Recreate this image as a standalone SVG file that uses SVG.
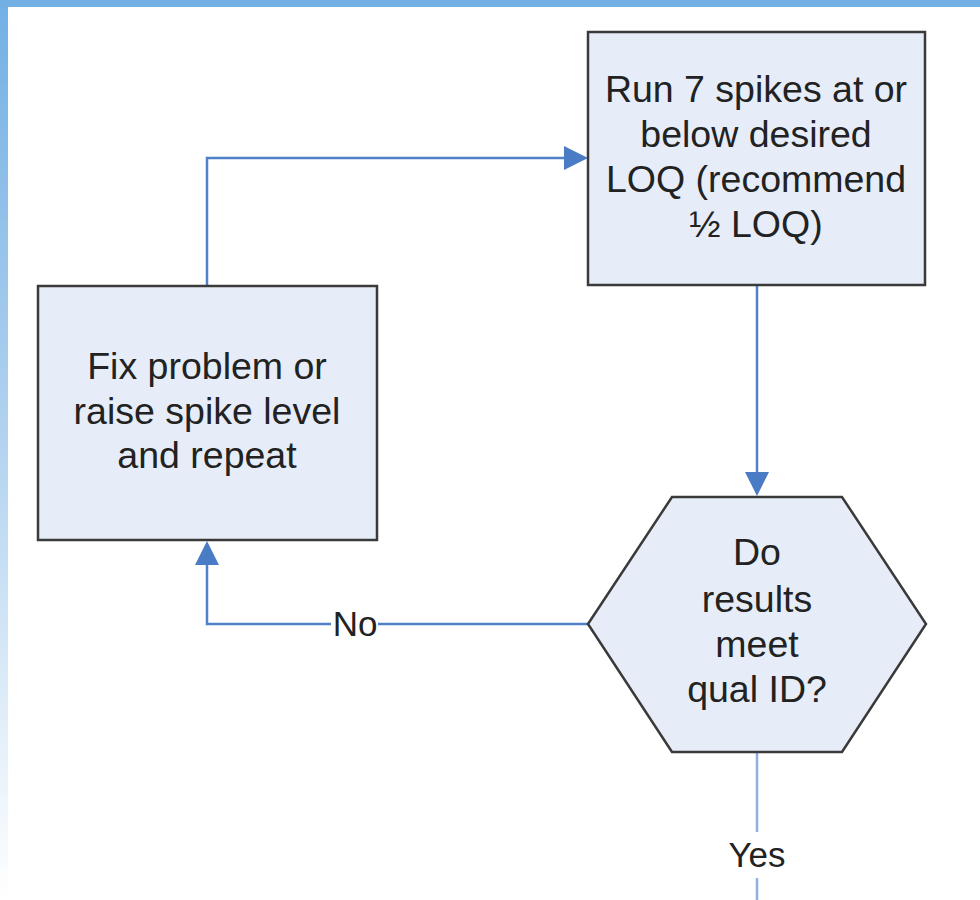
<svg xmlns="http://www.w3.org/2000/svg" width="980" height="900" viewBox="0 0 980 900">
<defs>
<linearGradient id="side" x1="0" y1="0" x2="0" y2="1">
<stop offset="0" stop-color="#72b0e4"/>
<stop offset="0.5" stop-color="#b4d4f0"/>
<stop offset="1" stop-color="#ffffff"/>
</linearGradient>
<style>
.node{fill:#e6edf8;stroke:#3a3a3a;stroke-width:2.5}
.lbl{font-family:"Liberation Sans",Arial,sans-serif;font-size:37.5px;fill:#222;text-anchor:middle}
.conn{fill:none;stroke:#4f81c8;stroke-width:2.5}
.head{fill:#4a7cc6}
</style>
</defs>
<rect width="980" height="900" fill="#ffffff"/>
<rect x="0" y="0" width="8" height="900" fill="url(#side)"/>
<rect x="0" y="0" width="980" height="7" fill="#72b0e4"/>

<g id="connectors">
<path class="conn" d="M207,285 V158 H566"/>
<path class="head" d="M588,158 L564,146 L564,170 Z"/>
<path class="conn" d="M757,286 V474"/>
<path class="head" d="M757,496 L745,472 L769,472 Z"/>
<path class="conn" d="M588,624 H378 M331,624 H207 V563"/>
<path class="head" d="M207,541 L195,565 L219,565 Z"/>
<path class="conn" d="M757,752 V832 M757,878 V900" style="stroke:#8fb1e2"/>
<text class="lbl" x="355" y="636" style="font-size:35px">No</text>
<text class="lbl" x="757" y="867" style="font-size:35px">Yes</text>
</g>

<g id="run-spikes">
<rect class="node" x="588" y="32" width="337" height="253"/>
<text class="lbl" x="756" y="102">Run 7 spikes at or</text>
<text class="lbl" x="756" y="147">below desired</text>
<text class="lbl" x="756" y="192">LOQ (recommend</text>
<text class="lbl" x="756" y="237">½ LOQ)</text>
</g>

<g id="fix-problem">
<rect class="node" x="38" y="286" width="339" height="254"/>
<text class="lbl" x="207" y="379">Fix problem or</text>
<text class="lbl" x="207" y="424">raise spike level</text>
<text class="lbl" x="207" y="468">and repeat</text>
</g>

<g id="decision">
<polygon class="node" points="588,624 672,497 842,497 926,624 842,752 672,752"/>
<text class="lbl" x="757" y="565">Do</text>
<text class="lbl" x="757" y="612">results</text>
<text class="lbl" x="757" y="657">meet</text>
<text class="lbl" x="757" y="702">qual ID?</text>
</g>
</svg>
